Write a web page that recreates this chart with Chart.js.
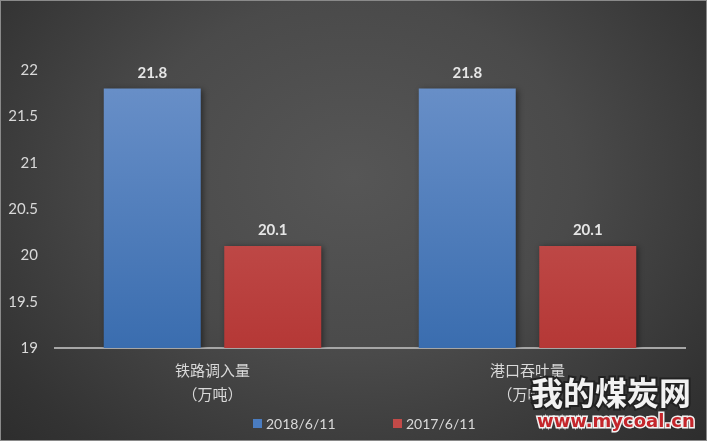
<!DOCTYPE html>
<html>
<head>
<meta charset="utf-8">
<script src="https://cdn.jsdelivr.net/npm/chart.js@4"></script>
<style>
  html, body { margin: 0; padding: 0; }
  body {
    width: 707px; height: 441px; overflow: hidden;
    background: radial-gradient(ellipse 70% 90% at 50% 40%, #565656 0%, #4a4a4a 45%, #333333 85%, #2c2c2c 100%);
  }
  #wrap { position: relative; width: 705px; height: 439px; border: 1px solid #8a8a8a; }
</style>
</head>
<body>
<div id="wrap"><canvas id="coalChart" width="705" height="439"></canvas></div>
<script>
const categories = [['铁路调入量', '（万吨）'], ['港口吞吐量', '（万吨）']];
const seriesNames = ['2018/6/11', '2017/6/11'];
const values2018 = [21.8, 21.8];
const values2017 = [20.1, 20.1];
const yTicks = [19, 19.5, 20, 20.5, 21, 21.5, 22];
const legendColors = ['#4a7cc0', '#c24a48'];

const textColor = '#d9d9d9';

function barGradient(top, bottom) {
  return (ctx) => {
    const area = ctx.chart.chartArea;
    if (!area) return top;
    const g = ctx.chart.ctx.createLinearGradient(0, area.top, 0, area.bottom);
    g.addColorStop(0, top);
    g.addColorStop(1, bottom);
    return g;
  };
}

// value labels above bars
const valueLabels = {
  id: 'valueLabels',
  afterDatasetsDraw(chart) {
    const ctx = chart.ctx;
    ctx.save();
    ctx.font = 'bold 15px Lato, "DejaVu Sans", sans-serif';
    ctx.fillStyle = '#e6e6e6';
    ctx.textAlign = 'center';
    ctx.textBaseline = 'bottom';
    chart.data.datasets.forEach((ds, i) => {
      chart.getDatasetMeta(i).data.forEach((bar, j) => {
        ctx.fillText(ds.data[j].toFixed(1), bar.x, bar.y - 8);
      });
    });
    ctx.restore();
  }
};

// bar drop shadow
const barShadow = {
  id: 'barShadow',
  beforeDatasetsDraw(chart) {
    chart.ctx.save();
    chart.ctx.shadowColor = 'rgba(0,0,0,0.45)';
    chart.ctx.shadowBlur = 6;
    chart.ctx.shadowOffsetX = 2;
    chart.ctx.shadowOffsetY = 1;
  },
  afterDatasetsDraw(chart) {
    chart.ctx.restore();
  }
};

// legend under the axis, centred
const bottomLegend = {
  id: 'bottomLegend',
  afterDraw(chart) {
    const ctx = chart.ctx;
    ctx.save();
    ctx.font = '14px Lato, "DejaVu Sans", sans-serif';
    ctx.textBaseline = 'middle';
    const y = 423;
    const gap = 140;
    const startX = 252;
    chart.data.datasets.forEach((ds, i) => {
      const x = startX + i * gap;
      ctx.fillStyle = legendColors[i];
      ctx.fillRect(x, y - 5, 9, 9);
      ctx.fillStyle = textColor;
      ctx.fillText(ds.label, x + 13, y);
    });
    ctx.restore();
  }
};

// site watermark in the lower right corner
const watermark = {
  id: 'watermark',
  afterDraw(chart) {
    const ctx = chart.ctx;
    ctx.save();
    ctx.font = 'bold 32px "Noto Sans CJK SC", sans-serif';
    ctx.textBaseline = 'alphabetic';
    ctx.lineWidth = 4;
    ctx.strokeStyle = '#222';
    ctx.strokeText('我的煤炭网', 530, 404);
    ctx.fillStyle = '#f2f2f2';
    ctx.fillText('我的煤炭网', 530, 404);
    ctx.font = 'bold 18px "DejaVu Sans", sans-serif';
    ctx.lineWidth = 3;
    ctx.strokeStyle = '#f2f2f2';
    ctx.strokeText('www.mycoal.cn', 536, 426);
    ctx.fillStyle = '#c4262b';
    ctx.fillText('www.mycoal.cn', 536, 426);
    ctx.restore();
  }
};

new Chart(document.getElementById('coalChart'), {
  type: 'bar',
  data: {
    labels: categories,
    datasets: [
      {
        label: seriesNames[0],
        data: values2018,
        backgroundColor: barGradient('#6b91c9', '#3a6daf'),
        categoryPercentage: 0.765,
        barPercentage: 0.805
      },
      {
        label: seriesNames[1],
        data: values2017,
        backgroundColor: barGradient('#cc6260', '#b53836'),
        categoryPercentage: 0.765,
        barPercentage: 0.805
      }
    ]
  },
  options: {
    responsive: false,
    animation: false,
    layout: { padding: { top: 69, right: 21, left: 0, bottom: 30 } },
    plugins: {
      legend: { display: false },
      tooltip: { enabled: false }
    },
    scales: {
      x: {
        grid: { display: false, drawTicks: false },
        border: { color: '#a6a6a6', width: 2 },
        ticks: {
          color: textColor,
          padding: 10,
          font: { size: 15, family: '"Noto Sans CJK SC", sans-serif', lineHeight: 1.6 }
        },
        afterFit(scale) { scale.height = 62; }
      },
      y: {
        min: yTicks[0],
        max: yTicks[yTicks.length - 1],
        grid: { display: false, drawTicks: false },
        border: { display: false },
        afterBuildTicks(scale) { scale.ticks = yTicks.map(v => ({ value: v })); },
        ticks: {
          color: textColor,
          padding: 17,
          font: { size: 15, family: 'Lato, "DejaVu Sans", sans-serif' },
          callback: (v) => String(v)
        },
        afterFit(scale) { scale.width = 54; }
      }
    }
  },
  plugins: [barShadow, valueLabels, bottomLegend, watermark]
});
</script>
</body>
</html>
